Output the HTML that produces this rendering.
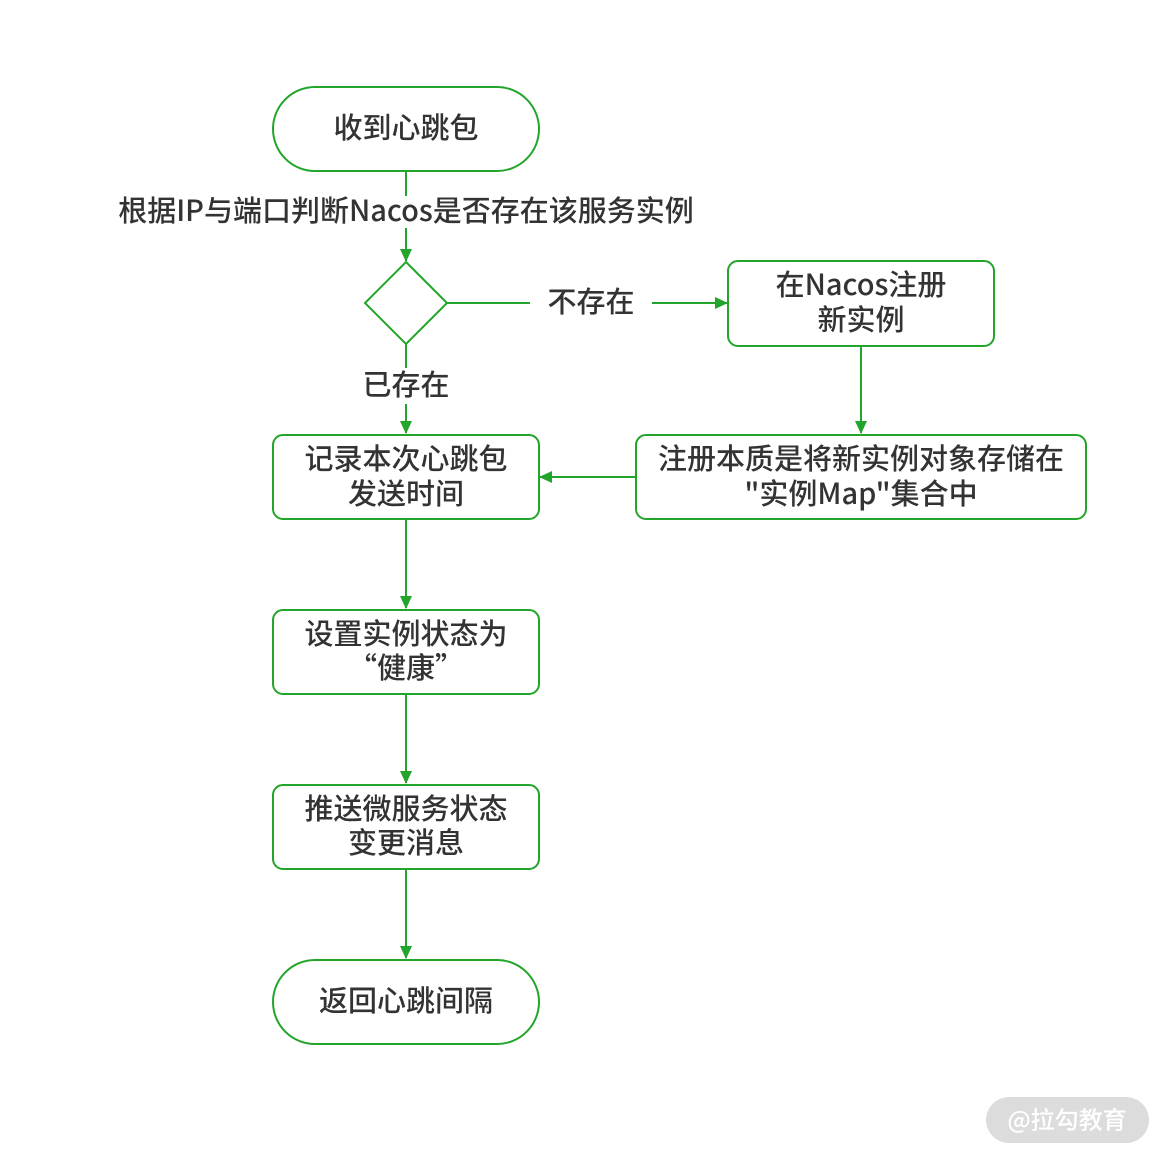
<!DOCTYPE html>
<html><head><meta charset="utf-8"><style>
html,body{margin:0;padding:0;background:#fff;}
svg{display:block;}
text{font-family:"Noto Sans CJK SC","Liberation Sans",sans-serif;fill:#333;font-size:29px;font-weight:500;text-anchor:middle;dominant-baseline:central;}
</style></head><body>
<svg width="1165" height="1158" viewBox="0 0 1165 1158" xmlns="http://www.w3.org/2000/svg">
<defs><marker id="a" markerWidth="14" markerHeight="14" refX="12" refY="6" orient="auto" markerUnits="userSpaceOnUse"><path d="M0,0 L13,6 L0,12 z" fill="#22a52a"/></marker></defs>
<g fill="none" stroke="#22a52a" stroke-width="2">
<rect x="273" y="87" width="266" height="84" rx="42"/>
<line x1="406" y1="171" x2="406" y2="196"/>
<line x1="406" y1="228" x2="406" y2="261" marker-end="url(#a)"/>
<polygon points="406,262 447,303 406,344 365,303" fill="#fff"/>
<line x1="447" y1="303" x2="530" y2="303"/>
<line x1="652" y1="303" x2="727" y2="303" marker-end="url(#a)"/>
<rect x="728" y="261" width="266" height="85" rx="10"/>
<line x1="861" y1="346" x2="861" y2="433" marker-end="url(#a)"/>
<rect x="636" y="435" width="450" height="84" rx="10"/>
<line x1="636" y1="477" x2="540" y2="477" marker-end="url(#a)"/>
<line x1="406" y1="344" x2="406" y2="368"/>
<line x1="406" y1="404" x2="406" y2="433" marker-end="url(#a)"/>
<rect x="273" y="435" width="266" height="84" rx="10"/>
<line x1="406" y1="519" x2="406" y2="608" marker-end="url(#a)"/>
<rect x="273" y="610" width="266" height="84" rx="10"/>
<line x1="406" y1="694" x2="406" y2="783" marker-end="url(#a)"/>
<rect x="273" y="785" width="266" height="84" rx="10"/>
<line x1="406" y1="869" x2="406" y2="958" marker-end="url(#a)"/>
<rect x="273" y="960" width="266" height="84" rx="42"/>
</g>
<text x="406" y="126">收到心跳包</text>
<text x="406" y="209">根据IP与端口判断Nacos是否存在该服务实例</text>
<text x="591" y="300">不存在</text>
<text x="406" y="383">已存在</text>
<text x="861" y="283">在Nacos注册</text>
<text x="861" y="318">新实例</text>
<text x="861" y="457">注册本质是将新实例对象存储在</text>
<text x="861" y="492">"实例Map"集合中</text>
<text x="406" y="457">记录本次心跳包</text>
<text x="406" y="492">发送时间</text>
<text x="406" y="632">设置实例状态为</text>
<text x="406" y="666">“健康”</text>
<text x="406" y="807">推送微服务状态</text>
<text x="406" y="841">变更消息</text>
<text x="406" y="999">返回心跳间隔</text>
<rect x="986" y="1097" width="163" height="46" rx="23" fill="#dcdcdc"/>
<text x="1067" y="1118" style="fill:#fff;font-size:24px">@拉勾教育</text>
</svg>
</body></html>
